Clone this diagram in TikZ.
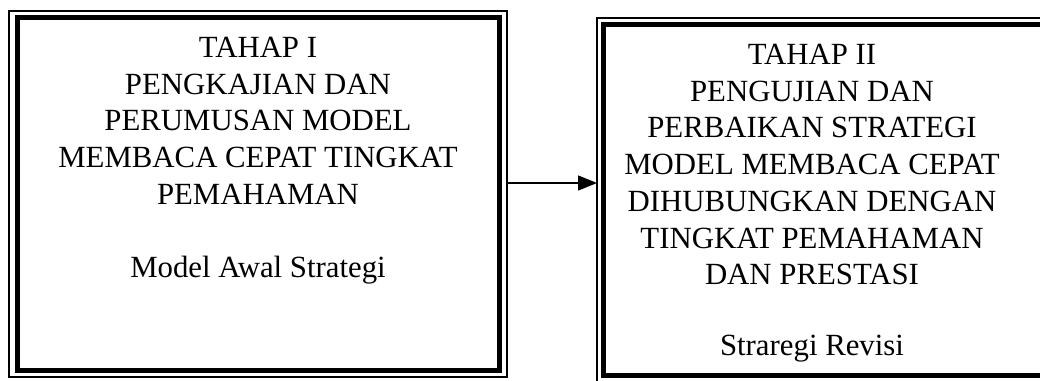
\documentclass[tikz,border=0pt]{standalone}
\usepackage{fontspec}
\setmainfont{Liberation Serif}
\usetikzlibrary{arrows.meta,calc}
\tikzset{
  thickbox/.style={draw, line width=5pt, inner sep=0pt, outer sep=0pt},
  thinbox/.style={draw, line width=1.3pt, inner sep=0pt, outer sep=0pt},
  boxtext/.style={align=center, inner sep=0pt, anchor=north, font=\fontsize{30.8}{36.7}\selectfont},
  arr/.style={line width=1.4pt, -{Triangle[length=19pt,width=15pt]}}
}
\begin{document}
\begin{tikzpicture}[x=1pt,y=-1pt]
\useasboundingbox (0,0) rectangle (1040,380);
\clip (0,0) rectangle (1040,380);
% left box
\node[thickbox, minimum width=482pt, minimum height=353pt] (box1) at (258,193.5) {};
\node[thinbox, minimum width=498pt, minimum height=366pt] (outer1) at (258,194) {};
% right box (runs past the right edge)
\node[thickbox, minimum width=480pt, minimum height=351pt] (box2) at (843,199.5) {};
\node[thinbox, minimum width=492pt, minimum height=364pt] (outer2) at (843,200) {};
% texts
\node[boxtext] (t1) at (258,37) {TAHAP I\\PENGKAJIAN DAN\\PERUMUSAN MODEL\\MEMBACA CEPAT TINGKAT\\PEMAHAMAN\\[36.7pt]Model Awal Strategi};
\node[boxtext] (t2) at (812,44) {TAHAP II\\PENGUJIAN DAN\\PERBAIKAN STRATEGI\\MODEL MEMBACA CEPAT\\DIHUBUNGKAN DENGAN\\TINGKAT PEMAHAMAN\\DAN PRESTASI\\[34pt]Straregi Revisi};
% arrow
\draw[arr] ([yshift=11pt]outer1.east) -- ([yshift=11pt]outer1.east -| outer2.west);
\end{tikzpicture}
\end{document}
